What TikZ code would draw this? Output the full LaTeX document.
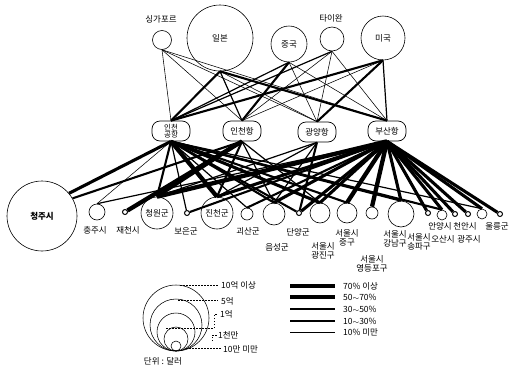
\documentclass[tikz,border=0pt]{standalone}
\usepackage{fontspec}
\setmainfont{Noto Sans CJK KR}
\begin{document}
\begin{tikzpicture}[x=1pt,y=-1pt,
  every node/.style={font=\fontsize{8.5}{9.5}\selectfont},
  cty/.style={draw,circle,inner sep=0pt,line width=0.6pt,fill=white},
  hub/.style={draw,rectangle,rounded corners=8pt,minimum width=38pt,minimum height=20pt,inner sep=1pt,line width=0.7pt,fill=white},
  dotn/.style={draw,circle,inner sep=0pt,minimum size=5pt,line width=1pt,fill=white},
  lbl/.style={inner sep=0pt},
  w1/.style={line width=0.55pt},
  w2/.style={line width=1.2pt},
  w3/.style={line width=2.1pt},
  w4/.style={line width=3.1pt},
  w5/.style={line width=4.3pt},
  leg/.style={line width=0.45pt,dash pattern=on 1.5pt off 1.5pt}]
\useasboundingbox (0,0) rectangle (516,370);

% top countries
\node[cty,minimum size=19pt] (sg) at (162,40) {};
\node[lbl] (sgl) at (161,19) {싱가포르};
\node[cty,minimum size=66pt] (jp) at (220,38) {일본};
\node[cty,minimum size=36pt] (cn) at (289,44) {중국};
\node[cty,minimum size=24pt] (tw) at (332,39) {};
\node[lbl] (twl) at (331,18) {타이완};
\node[cty,minimum size=44pt] (us) at (383,38) {미국};

% hubs
\node[hub,align=center,font=\fontsize{7.5}{7.5}\selectfont] (icn) at (171,131) {인천\\공항};
\node[hub] (ich) at (242,131) {인천항};
\node[hub] (gy) at (317,132) {광양항};
\node[hub] (bs) at (387,131) {부산항};

% bottom nodes
\node[cty,minimum size=70pt,font=\fontsize{8.5}{9.5}\selectfont\bfseries] (cj) at (42,216) {청주시};
\node[cty,minimum size=16pt] (cju) at (97,212) {};
\node[dotn] (jc) at (125,212) {};
\node[cty,minimum size=32pt] (cw) at (157,213) {청원군};
\node[dotn] (be) at (187,213) {};
\node[cty,minimum size=32pt] (jn) at (217,213) {진천군};
\node[cty,minimum size=12pt] (gs) at (247,214) {};
\node[cty,minimum size=22pt] (es) at (274,214) {};
\node[dotn] (dy) at (299,213) {};
\node[cty,minimum size=20pt] (gj) at (320,213) {};
\node[cty,minimum size=20pt] (jg) at (347,213) {};
\node[cty,minimum size=12pt] (yd) at (372,213) {};
\node[cty,minimum size=26pt] (gn) at (401,214) {};
\node[dotn] (r1) at (428,213) {};
\node[cty,minimum size=10pt] (r2) at (442,215) {};
\node[dotn] (r3) at (455,214) {};
\node[dotn] (r4) at (468,214) {};
\node[cty,minimum size=10pt] (r5) at (482,214) {};
\node[dotn] (r6) at (500,214) {};

% bottom labels
\node[lbl] (l1) at (95,230) {충주시};
\node[lbl] (l2) at (128,230) {재천시};
\node[lbl] (l3) at (186,231) {보은군};
\node[lbl] (l4) at (248,231) {괴산군};
\node[lbl] (l5) at (277,247) {음성군};
\node[lbl] (l6) at (298,232) {단양군};
\node[lbl,align=center] (l7) at (323,251) {서울시\\광진구};
\node[lbl,align=center] (l8) at (347,238) {서울시\\중구};
\node[lbl,align=center] (l9) at (372,264) {서울시\\영등포구};
\node[lbl,align=center] (l10) at (395,239) {서울시\\강남구};
\node[lbl,align=center] (l11) at (419,242) {서울시\\송파구};
\node[lbl] (l12) at (440,226) {안양시};
\node[lbl] (l13) at (465,226) {천안시};
\node[lbl] (l14) at (497,226) {울릉군};
\node[lbl] (l15) at (443,239) {오산시};
\node[lbl] (l16) at (469,239) {광주시};

% top-to-hub connectors
\draw[w1] (sg.south) -- (icn.north);
\draw[w1] (sg.south) -- (ich.north);
\draw[w1] (sg.south) -- (gy.north);
\draw[w1] (sg.south) -- (bs.north);
\draw[w3] (jp.south) -- (icn.north);
\draw[w2] (jp.south) -- (ich.north);
\draw[w1] (jp.south) -- (gy.north);
\draw[w3] (jp.south) -- (bs.north);
\draw[w2] (cn.south) -- (icn.north);
\draw[w3] (cn.south) -- (ich.north);
\draw[w1] (cn.south) -- (gy.north);
\draw[w1] (cn.south) -- (bs.north);
\draw[w2] (tw.south) -- (icn.north);
\draw[w1] (tw.south) -- (ich.north);
\draw[w1] (tw.south) -- (gy.north);
\draw[w1] (tw.south) -- (bs.north);
\draw[w3] (us.south) -- (icn.north);
\draw[w1] (us.south) -- (ich.north);
\draw[w3] (us.south) -- (gy.north);
\draw[w2] (us.south) -- (bs.north);

% hub-to-region connectors
\draw[w4] (icn.south) -- (cj.40);
\draw[w1] (icn.south) -- (cju.north);
\draw[w3] (icn.south) -- (cw.north);
\draw[w2] (icn.south) -- (be);
\draw[w5] (icn.south) -- (jn.north);
\draw[w2] (icn.south) -- (gs.north);
\draw[w3] (icn.south) -- (es.north);
\draw[w3] (icn.south) -- (dy);
\draw[w4] (icn.south) -- (gj.north);
\draw[w3] (icn.south) -- (jg.north);
\draw[w3] (icn.south) -- (gn.north);
\draw[w3] (icn.south) -- (r2.north);
\draw[w2] (icn.south) -- (r5.north);
\draw[w3] (ich.south) -- (cj.30);
\draw[w5] (ich.south) -- (jc);
\draw[w4] (ich.south) -- (cw.north);
\draw[w3] (ich.south) -- (jn.north);
\draw[w2] (ich.south) -- (es.north);
\draw[w2] (ich.south) -- (gj.north);
\draw[w2] (gy.south) -- (cw.north);
\draw[w2] (gy.south) -- (jn.north);
\draw[w2] (gy.south) -- (es.north);
\draw[w3] (gy.south) -- (dy);
\draw[w2] (bs.south) -- (cju.north);
\draw[w5] (bs.south) -- (cw.north);
\draw[w3] (bs.south) -- (be);
\draw[w4] (bs.south) -- (jn.north);
\draw[w3] (bs.south) -- (gs.north);
\draw[w4] (bs.south) -- (es.north);
\draw[w4] (bs.south) -- (dy);
\draw[w4] (bs.south) -- (gj.north);
\draw[w5] (bs.south) -- (jg.north);
\draw[w5] (bs.south) -- (yd.north);
\draw[w4] (bs.south) -- (gn.north);
\draw[w4] (bs.south) -- (r1);
\draw[w4] (bs.south) -- (r2.north);
\draw[w4] (bs.south) -- (r3);
\draw[w4] (bs.south) -- (r4);
\draw[w4] (bs.south) -- (r5.north);
\draw[w4] (bs.south) -- (r6);

% size legend
\draw[line width=0.55pt] (176,318) circle[radius=33pt];
\draw[line width=0.55pt] (176,325) circle[radius=26pt];
\draw[line width=0.55pt] (176,332) circle[radius=19pt];
\draw[line width=0.55pt] (176,339) circle[radius=12pt];
\draw[line width=0.55pt] (176,346) circle[radius=5pt];
\draw[leg] (180,285) -- (219,285);
\draw[leg] (178,300) -- (218,300);
\draw[leg] (166,328) -- (214,328) -- (214,314) -- (218,314);
\draw[leg] (212,341) -- (212,335) -- (217,335);
\draw[leg] (186,348) -- (222,348);
\node[lbl,anchor=west] (s1) at (221,285) {10억 이상};
\node[lbl,anchor=west] (s2) at (221,301) {5억};
\node[lbl,anchor=west] (s3) at (220,314) {1억};
\node[lbl,anchor=west] (s4) at (218,335) {1천만};
\node[lbl,anchor=west] (s5) at (223,349) {10만 미만};
\node[lbl] (unit) at (163,361) {단위 : 달러};

% width legend
\coordinate (a1) at (290,286); \coordinate (b1) at (335,286);
\coordinate (a2) at (290,297); \coordinate (b2) at (335,297);
\coordinate (a3) at (290,309); \coordinate (b3) at (335,309);
\coordinate (a4) at (290,321); \coordinate (b4) at (335,321);
\coordinate (a5) at (290,332); \coordinate (b5) at (335,332);
\draw[w5] (a1) -- (b1);
\draw[w4] (a2) -- (b2);
\draw[w3] (a3) -- (b3);
\draw[w2] (a4) -- (b4);
\draw[w1] (a5) -- (b5);
\node[lbl,anchor=west] (t1) at (343,286) {70\% 이상};
\node[lbl,anchor=west] (t2) at (343,297) {50$\sim$70\%};
\node[lbl,anchor=west] (t3) at (343,309) {30$\sim$50\%};
\node[lbl,anchor=west] (t4) at (343,321) {10$\sim$30\%};
\node[lbl,anchor=west] (t5) at (343,332) {10\% 미만};
\end{tikzpicture}
\end{document}
